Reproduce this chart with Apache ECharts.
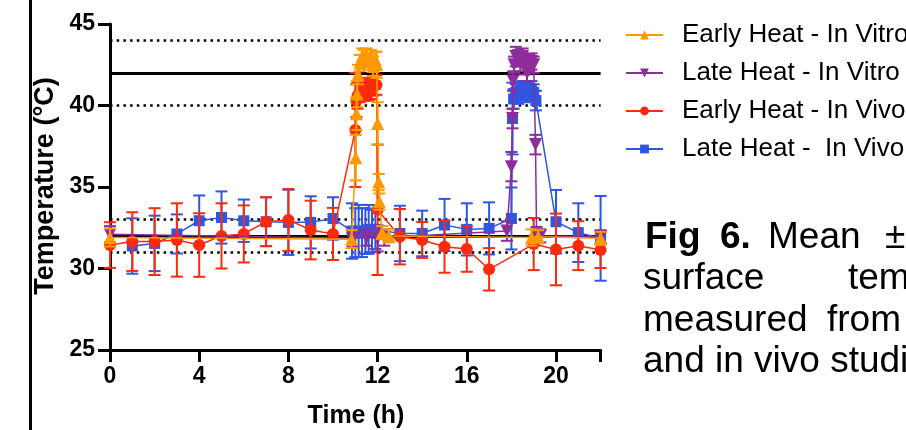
<!DOCTYPE html>
<html><head><meta charset="utf-8">
<script src="https://cdn.jsdelivr.net/npm/echarts@6/dist/echarts.min.js"></script>
<style>html,body{margin:0;padding:0;background:#fff}#c{width:906px;height:430px}</style>
</head><body><div id="c"></div>
<script>
// ---- Data ----
const legendNames = ['Early Heat - In Vitro', 'Late Heat - In Vitro', 'Early Heat - In Vivo', 'Late Heat -  In Vivo'];

// Early Heat - In Vitro (orange)
const evtT  = [0, 10.83, 11.02, 11.05, 11.08, 11.12, 11.2, 11.3, 11.4, 11.5, 11.6, 11.7, 11.8, 11.9, 11.96, 12.0, 12.05, 12.08, 12.2, 12.5, 18.9, 19.2, 22];
const evtM  = [31.9, 31.8, 36.8, 39.5, 40.7, 41.9, 42.6, 43.0, 42.9, 43.1, 42.7, 43.0, 42.4, 42.8, 42.5, 38.9, 35.3, 34.1, 32.2, 32.0, 31.9, 31.95, 31.85];
const evtSD = [0.55, 0.55, 1.4, 1.0, 0.8, 0.6, 0.5, 0.5, 0.5, 0.4, 0.5, 0.4, 0.6, 0.5, 0.8, 1.3, 0.5, 0.5, 0.4, 0.4, 0.5, 0.4, 0.4];

// Late Heat - In Vitro (purple)
const lvtT  = [0, 10.9, 11.5, 12.0, 12.3, 17.8, 18.0, 18.05, 18.08, 18.12, 18.2, 18.3, 18.4, 18.5, 18.6, 18.7, 18.8, 18.9, 19.0, 19.08, 19.13, 19.3, 22];
const lvtM  = [32.1, 31.85, 31.9, 31.85, 31.9, 32.3, 36.25, 39.2, 41.5, 42.5, 43.0, 42.9, 42.6, 43.0, 42.4, 42.0, 42.6, 42.7, 42.5, 37.6, 32.05, 32.0, 31.95];
const lvtSD = [0.5, 0.5, 0.5, 0.8, 0.5, 0.6, 0.9, 0.6, 0.6, 0.5, 0.6, 0.5, 0.5, 0.5, 0.5, 0.5, 0.5, 0.5, 0.5, 0.6, 0.5, 0.4, 0.4];

// Early Heat - In Vivo (red)
const evvT  = [0, 1, 2, 3, 4, 5, 6, 7, 8, 9, 10, 11.0, 11.05, 11.1, 11.2, 11.3, 11.4, 11.5, 11.6, 11.7, 11.8, 11.95, 12.0, 13, 14, 15, 16, 17, 19, 20, 21, 22];
const evvM  = [31.44, 31.65, 31.65, 31.75, 31.44, 32.0, 32.12, 32.87, 32.98, 32.36, 32.12, 38.5, 40.3, 40.6, 40.8, 41.0, 40.9, 41.1, 40.9, 41.0, 41.2, 41.26, 33.6, 31.95, 31.75, 31.34, 31.2, 29.95, 31.5, 31.17, 31.4, 31.13];
const evvSD = [1.4, 1.8, 2.05, 2.25, 1.95, 2.0, 1.75, 1.5, 1.9, 1.8, 1.6, 3.5, 1.0, 0.8, 0.6, 0.6, 0.6, 0.6, 0.6, 0.6, 0.6, 0.6, 4.0, 1.7, 1.1, 1.6, 1.4, 1.3, 1.6, 2.2, 1.5, 1.1];

// Late Heat - In Vivo (blue)
const lvvT  = [1, 2, 3, 4, 5, 6, 7, 8, 9, 10, 10.85, 11.0, 11.15, 11.3, 11.45, 11.6, 11.75, 11.9, 13, 14, 15, 16, 17, 18, 18.05, 18.1, 18.2, 18.3, 18.4, 18.5, 18.6, 18.7, 18.8, 18.9, 19.0, 19.1, 20, 21, 22];
const lvvM  = [31.38, 31.54, 32.12, 32.93, 33.13, 32.93, 32.87, 32.83, 32.83, 33.07, 32.3, 32.2, 32.3, 32.2, 32.3, 32.4, 32.3, 32.4, 32.15, 32.15, 32.67, 32.4, 32.46, 33.07, 39.2, 40.4, 40.8, 40.6, 40.9, 41.0, 40.7, 40.9, 40.8, 41.0, 40.8, 40.3, 32.87, 32.2, 31.85];
const lvvSD = [1.7, 1.7, 1.2, 1.55, 1.6, 1.3, 1.5, 2.0, 1.6, 1.3, 1.7, 1.5, 1.6, 1.5, 1.4, 1.5, 1.3, 1.2, 1.7, 1.4, 1.6, 1.6, 1.6, 1.9, 2.2, 0.6, 0.5, 0.5, 0.5, 0.5, 0.5, 0.5, 0.5, 0.5, 0.5, 0.6, 1.95, 1.8, 2.6];

// Reference lines
const refDotted = [44, 40, 33, 31];
const refSolid = [42, 32];

// Caption
const captionLines = [
  [['Fig', true], ['6.', true], ['Mean', false], ['±', false]],
  [['surface', false], ['temperature', false]],
  [['measured', false], ['from', false]],
  [['and in vivo studies', false]]
];

// ---- Build ----
const FONT = '"Liberation Sans", Arial, Helvetica, sans-serif';
const colors = ['#FF9900', '#8E2C9C', '#FF2A0D', '#2F56E3'];
const symbols = ['triangle', 'path://M0,0 L10,0 L5,9 Z', 'circle', 'rect'];
const symSizes = [13, 13, 12, 11];
const sets = [[evtT, evtM, evtSD], [lvtT, lvtM, lvtSD], [evvT, evvM, evvSD], [lvvT, lvvM, lvvSD]];
const zOrder = [8, 7, 6, 5];

function errRender(color) {
  return function (params, api) {
    const x = api.value(0), lo = api.value(1), hi = api.value(2);
    const a = api.coord([x, lo]), b = api.coord([x, hi]);
    const w = 6, st = {stroke: color, lineWidth: 2};
    return {type: 'group', children: [
      {type: 'line', shape: {x1: a[0], y1: a[1], x2: b[0], y2: b[1]}, style: st},
      {type: 'line', shape: {x1: b[0] - w, y1: b[1], x2: b[0] + w, y2: b[1]}, style: st},
      {type: 'line', shape: {x1: a[0] - w, y1: a[1], x2: a[0] + w, y2: a[1]}, style: st}
    ]};
  };
}

const series = [];
sets.forEach((s, i) => {
  const [T, M, SD] = s;
  series.push({
    type: 'custom', name: legendNames[i] + ' err', z: zOrder[i],
    renderItem: errRender(colors[i]),
    encode: {x: 0, y: [1, 2]},
    data: T.map((t, k) => [t, M[k] - SD[k], M[k] + SD[k]]),
    silent: true
  });
  series.push({
    type: 'line', name: legendNames[i], z: zOrder[i],
    data: T.map((t, k) => [t, M[k]]),
    symbol: symbols[i], symbolSize: symSizes[i], showAllSymbol: true,
    itemStyle: {color: colors[i], borderWidth: 0},
    lineStyle: {color: colors[i], width: 1.5},
    emphasis: {disabled: true}, animation: false
  });
});

// reference lines series
series.push({
  type: 'line', name: 'ref', z: 2, data: [], silent: true,
  markLine: {
    silent: true, symbol: 'none', animation: false, label: {show: false},
    data: refDotted.map(v => ({yAxis: v, lineStyle: {color: '#000', width: 2.5, type: [2.5, 4.2]}}))
      .concat(refSolid.map(v => ({yAxis: v, lineStyle: {color: '#000', width: 2.8, type: 'solid'}})))
  }
});

const graphics = [
  {type: 'rect', shape: {x: 29, y: 0, width: 3, height: 430}, style: {fill: '#000'}},
  {type: 'text', x: 46, y: 186, rotation: Math.PI / 2,
   style: {text: 'Temperature (°C)', font: 'bold 27px ' + FONT, fill: '#000', align: 'center', verticalAlign: 'middle', textAlign: 'center', textVerticalAlign: 'middle'}},
  {type: 'text', x: 356, y: 416,
   style: {text: 'Time (h)', font: 'bold 25px ' + FONT, fill: '#000', align: 'center', verticalAlign: 'middle', textAlign: 'center', textVerticalAlign: 'middle'}}
];
const capX = [[645, 720, 768, 885], [643, 848], [643, 827], [643]];
const capY = [238, 279, 321, 362];
captionLines.forEach((line, li) => {
  line.forEach((w, wi) => {
    graphics.push({type: 'text', x: capX[li][wi], y: capY[li],
      style: {text: w[0], font: (w[1] ? 'bold ' : '') + '37px ' + FONT, fill: '#000', align: 'left', verticalAlign: 'middle', textAlign: 'left', textVerticalAlign: 'middle'}});
  });
});

const option = {
  animation: false,
  backgroundColor: '#fff',
  grid: {left: 110, top: 24, width: 490.6, height: 326, containLabel: false, outerBoundsMode: 'none'},
  xAxis: {
    type: 'value', min: 0, max: 22, interval: 4,
    axisLine: {show: true, lineStyle: {color: '#000', width: 3}},
    axisTick: {show: true, length: 12, lineStyle: {color: '#000', width: 3}},
    axisLabel: {color: '#000', fontSize: 23, fontWeight: 'bold', fontFamily: FONT, margin: 15,
      formatter: v => (v === 22 ? '' : String(v)), showMaxLabel: true},
    splitLine: {show: false}
  },
  yAxis: {
    type: 'value', min: 25, max: 45, interval: 5,
    axisLine: {show: true, lineStyle: {color: '#000', width: 3}},
    axisTick: {show: true, length: 12, lineStyle: {color: '#000', width: 3}},
    axisLabel: {color: '#000', fontSize: 23, fontWeight: 'bold', fontFamily: FONT, margin: 15},
    splitLine: {show: false}
  },
  legend: {
    data: legendNames, orient: 'vertical', left: 625, top: 22, padding: 0,
    itemWidth: 37, itemHeight: 11, itemGap: 12,
    textStyle: {fontSize: 26, color: '#000', fontFamily: FONT, lineHeight: 26, padding: [0, 0, 0, 14]},
    selectedMode: false
  },
  graphic: graphics,
  series: series
};
const chart = echarts.init(document.getElementById('c'), null, {renderer: 'canvas'});
chart.setOption(option);
</script>
</body></html>
